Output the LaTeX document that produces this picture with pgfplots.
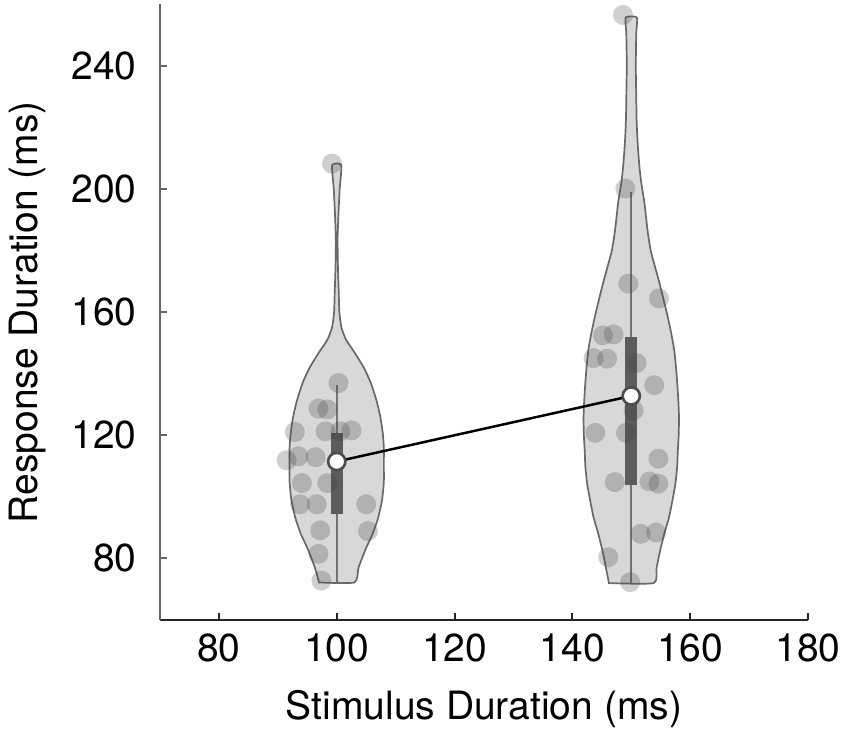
\documentclass[border=0pt]{standalone}
\usepackage{pgfplots}
\pgfplotsset{compat=1.18}
\usepackage{fontspec}
\setmainfont{TeX Gyre Heros}
\definecolor{vfill}{RGB}{216,216,216}
\definecolor{vedge}{RGB}{105,105,105}
\definecolor{boxc}{RGB}{92,92,92}
\definecolor{whisk}{RGB}{115,115,115}
\begin{document}
\begin{tikzpicture}
\begin{axis}[
  scale only axis,
  width=324pt, height=307.75pt,
  xmin=70, xmax=180, ymin=60, ymax=260,
  axis x line=bottom, axis y line=left,
  axis line style={-},
  x axis line style={black!85, line width=1pt},
  y axis line style={black!60, line width=1pt},
  xtick={80,100,...,180}, ytick={80,120,...,240},
  tick align=inside, major tick length=3.5pt,
  xtick style={black!85, line width=1pt},
  ytick style={black!60, line width=1pt},
  /pgf/number format/assume math mode=true,
  tick label style={font=\fontsize{19.5}{23}\selectfont},
  xticklabel style={anchor=base, inner sep=0pt, yshift=-20.85pt},
  yticklabel style={anchor=east, inner sep=0pt, xshift=-11.5pt},
  label style={font=\fontsize{19.5}{23}\selectfont},
  xlabel={Stimulus Duration (ms)},
  ylabel={Response Duration (ms)},
  xlabel style={at={(axis description cs:0.5,0)}, anchor=base, yshift=-49.5pt},
  ylabel style={at={(axis description cs:-0.1883,0.5)}, anchor=base},
  clip=false,
]
% violin 1
\addplot[smooth, tension=0.35, fill=vfill, draw=vedge, line width=0.85pt] coordinates {
(97.0,72.2) (103.0,72.2) (103.7,77) (104.9,83) (106.1,88) (107.0,93) (107.7,99) (108.0,105) (108.0,110) (108.0,116) (107.8,121) (107.4,126) (106.8,131) (105.8,137) (104.6,142) (103.0,147) (101.6,151) (100.8,155) (100.45,160) (100.35,166) (100.2,175) (100.15,184) (100.3,192) (100.5,200) (100.77,207.8)
(99.23,207.8) (99.5,200) (99.7,192) (99.85,184) (99.8,175) (99.65,166) (99.55,160) (99.2,155) (98.4,151) (97.0,147) (95.4,142) (94.2,137) (93.2,131) (92.6,126) (92.2,121) (92.0,116) (92.0,110) (92.0,105) (92.3,99) (93.0,93) (93.9,88) (95.1,83) (96.3,77) (97.0,72.2)
} --cycle;
% violin 2
\addplot[smooth, tension=0.35, fill=vfill, draw=vedge, line width=0.85pt] coordinates {
(146.2,72.0) (153.8,72.0) (154.3,77) (154.9,82.6) (155.6,88) (156.4,93.3) (157.0,99) (157.5,104.4) (157.8,110) (157.9,115) (158.05,120) (158.1,126) (158.0,131) (157.8,137) (157.6,142) (157.3,147.6) (156.8,153) (156.2,158.4) (155.5,164) (154.8,169.4) (154.0,175) (153.3,180) (152.8,186) (152.5,191) (152.2,196) (151.7,202) (151.4,207) (151.15,213) (151.0,218) (150.9,223) (150.85,229) (150.8,235) (150.77,240) (150.8,246) (150.85,251) (150.94,255.8)
(149.06,255.8) (149.15,251) (149.2,246) (149.23,240) (149.2,235) (149.15,229) (149.1,223) (149.0,218) (148.85,213) (148.6,207) (148.3,202) (147.8,196) (147.5,191) (147.2,186) (146.7,180) (146.0,175) (145.2,169.4) (144.5,164) (143.8,158.4) (143.2,153) (142.7,147.6) (142.4,142) (142.2,137) (142.0,131) (141.9,126) (141.95,120) (142.1,115) (142.2,110) (142.5,104.4) (143.0,99) (143.6,93.3) (144.4,88) (145.1,82.6) (145.7,77) (146.2,72.0)
} --cycle;
% jittered points
\addplot[only marks, mark=*, mark size=5pt, mark options={draw=black!75, draw opacity=0, fill=black!75, fill opacity=0.25}] coordinates {
(100.3,137.0) (96.9,128.7) (98.4,128.4) (92.9,121.1) (98.1,121.3) (100.6,121.3) (102.5,121.6)
(91.5,111.9) (93.5,113.2) (96.4,112.9) (94.1,104.5) (98.4,104.5) (93.8,97.6) (96.6,97.6) (105.0,97.6)
(97.2,89.1) (105.3,88.9) (96.9,81.5) (97.4,72.8) (99.2,208.3)
(149.5,169.3) (154.7,164.5) (145.2,152.5) (147.0,152.8) (143.6,145.1) (145.9,144.9) (150.9,143.5)
(153.9,136.3) (150.4,128.1) (143.9,120.8) (149.1,120.8) (154.6,112.4) (147.2,104.8) (153.1,105.0)
(154.6,104.3) (151.6,88.0) (154.2,88.4) (146.1,80.4) (149.8,72.3) (148.6,256.6) (149.0,200.2)
};
% whiskers
\addplot[whisk, line width=0.8pt] coordinates {(100,72.2) (100,136.3)};
\addplot[whisk, line width=0.8pt] coordinates {(150,72.0) (150,199.1)};
% boxes
\addplot[fill=boxc, draw=none] coordinates {(99.0,94.5) (101.0,94.5) (101.0,120.9) (99.0,120.9)} --cycle;
\addplot[fill=boxc, draw=none] coordinates {(148.95,104.0) (151.05,104.0) (151.05,152.0) (148.95,152.0)} --cycle;
% mean line
\addplot[black, line width=1.25pt] coordinates {(100,111.5) (150,132.8)};
\addplot[only marks, mark=*, mark size=4.3pt, mark options={fill=white, draw=black!70, line width=1.3pt}] coordinates {(100,111.5) (150,132.8)};
\end{axis}
\pgfresetboundingbox
\path (current axis.south west) ++(-80pt,-58.5pt) rectangle ++(425pt,368.5pt);
\end{tikzpicture}
\end{document}
